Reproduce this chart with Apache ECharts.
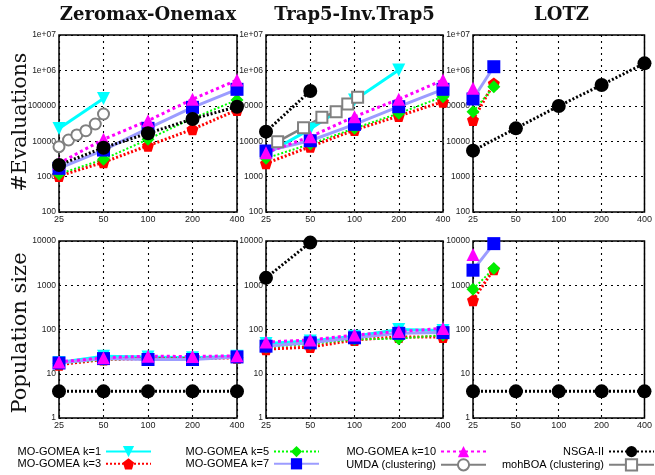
<!DOCTYPE html>
<html>
<head>
<meta charset="utf-8">
<script src="https://cdn.jsdelivr.net/npm/echarts@6/dist/echarts.min.js"></script>
<style>html,body{margin:0;padding:0;background:#fff}#c{width:655px;height:475px}</style>
</head>
<body>
<div id="c"></div>
<script>
// ---------- data ----------
const sizes = [25, 50, 100, 200, 400];
const sizesLotzGomea = [25, 35];
const sizesUmdaZO = [25, 29, 33, 38, 44, 50];
const sizesMohboaTrap = [30, 45, 60, 75, 90, 105];
const panelTitles = ['Zeromax-Onemax', 'Trap5-Inv.Trap5', 'LOTZ'];
const evalTicks = ['100', '1000', '10000', '100000', '1e+06', '1e+07'];
const popTicks = ['1', '10', '100', '1000', '10000'];
const seriesNames = ['MO-GOMEA k=1', 'MO-GOMEA k=3', 'MO-GOMEA k=5', 'MO-GOMEA k=7',
  'MO-GOMEA k=10', 'UMDA (clustering)', 'mohBOA (clustering)', 'NSGA-II'];

// Zeromax-Onemax, #evaluations
const zoEvalK1 = [23000, 160000];
const zoEvalK3 = [1040, 2540, 7460, 21700, 76100];
const zoEvalK5 = [1180, 3080, 11300, 44300, 146000];
const zoEvalK7 = [1710, 5630, 23100, 90600, 292000];
const zoEvalK10 = [2370, 11300, 38000, 152800, 535000];
const zoEvalUmda = [7000, 10800, 15000, 19800, 30600, 58600];
const zoEvalNsga = [2130, 6550, 16700, 42400, 94400];
// Trap5-Inv.Trap5, #evaluations
const trEvalK1 = [4300, 22000, 145000, 1030000];
const trEvalK3 = [2370, 7000, 20700, 51500, 131000];
const trEvalK5 = [3280, 8340, 23100, 61200, 181000];
const trEvalK7 = [5290, 10300, 29900, 94400, 292000];
const trEvalK10 = [4730, 13400, 49300, 153000, 535000];
const trEvalMohboa = [9700, 24100, 47200, 68200, 112000, 173000];
const trEvalNsga = [18600, 262000];
// LOTZ, #evaluations
const ltEvalK3 = [39800, 430000];
const ltEvalK5 = [68000, 347000];
const ltEvalK7 = [156000, 1270000];
const ltEvalK10 = [311000];
const ltEvalNsga = [5400, 23100, 98700, 387000, 1580000];
// Zeromax-Onemax, population size
const zoPopK1 = [18, 25, 24, 23, 25];
const zoPopK3 = [16, 21, 22, 22, 23];
const zoPopK5 = [17, 21, 22, 22, 23];
const zoPopK7 = [17.5, 22, 21, 21, 24];
const zoPopK10 = [18.5, 23, 25, 24.5, 25.5];
const zoPopNsga = [4, 4, 4, 4, 4];
// Trap5-Inv.Trap5, population size
const trPopK1 = [48, 55, 70, 100, 95];
const trPopK3 = [36, 40, 58, 68, 68];
const trPopK5 = [40, 47, 60, 62, 75];
const trPopK7 = [42, 50, 65, 82, 85];
const trPopK10 = [52, 58, 75, 90, 106];
const trPopNsga = [1470, 9200];
// LOTZ, population size
const ltPopK3 = [461, 2300];
const ltPopK5 = [817, 2390];
const ltPopK7 = [2190, 8720];
const ltPopK10 = [4940];
const ltPopNsga = [4, 4, 4, 4, 4];

// ---------- styles ----------
const pentagon = 'path://M0,-10L9.5,-3.1L5.9,8.1L-5.9,8.1L-9.5,-3.1Z';
const styleOf = {
  'MO-GOMEA k=1': {color: '#00ffff', line: '#00ffff', symbol: 'triangle', rot: 180, size: 13, width: 3, type: 'solid'},
  'MO-GOMEA k=3': {color: '#ff0000', line: '#ff0000', symbol: pentagon, rot: 0, size: 12, width: 3, type: [2, 2]},
  'MO-GOMEA k=5': {color: '#00ee00', line: '#00ff00', symbol: 'diamond', rot: 0, size: 13, width: 2, type: [2, 2]},
  'MO-GOMEA k=7': {color: '#0000ff', line: '#9c9cff', symbol: 'rect', rot: 0, size: 13, width: 3, type: 'solid'},
  'MO-GOMEA k=10': {color: '#ff00ff', line: '#ff00ff', symbol: 'triangle', rot: 0, size: 13, width: 3, type: [3, 3]},
  'UMDA (clustering)': {color: '#808080', line: '#808080', symbol: 'emptyCircle', rot: 0, size: 11, width: 2.5, type: 'solid'},
  'mohBOA (clustering)': {color: '#808080', line: '#808080', symbol: 'emptyRect', rot: 0, size: 11, width: 2.5, type: 'solid'},
  'NSGA-II': {color: '#000000', line: '#000000', symbol: 'circle', rot: 0, size: 14, width: 3, type: [2, 2]}
};

function mk(name, grid, xs, ys) {
  const s = styleOf[name];
  return {
    name: name, type: 'line', xAxisIndex: grid, yAxisIndex: grid,
    data: ys.map((v, i) => [xs[i] / 25, v]),
    symbol: s.symbol, symbolSize: s.size, symbolRotate: s.rot, showAllSymbol: true,
    lineStyle: {color: s.line, width: s.width, type: s.type},
    itemStyle: {color: s.color, borderColor: s.color, borderWidth: s.symbol.indexOf('empty') === 0 ? 3 : 0},
    emphasis: {disabled: true}, animation: false, clip: false
  };
}

const series = [
  // grid 0: ZO evals
  mk('MO-GOMEA k=1', 0, [25, 50], zoEvalK1),
  mk('MO-GOMEA k=3', 0, sizes, zoEvalK3),
  mk('MO-GOMEA k=5', 0, sizes, zoEvalK5),
  mk('MO-GOMEA k=7', 0, sizes, zoEvalK7),
  mk('MO-GOMEA k=10', 0, sizes, zoEvalK10),
  mk('UMDA (clustering)', 0, sizesUmdaZO, zoEvalUmda),
  mk('NSGA-II', 0, sizes, zoEvalNsga),
  // grid 1: Trap evals
  mk('MO-GOMEA k=1', 1, [25, 50, 100, 200], trEvalK1),
  mk('MO-GOMEA k=3', 1, sizes, trEvalK3),
  mk('MO-GOMEA k=5', 1, sizes, trEvalK5),
  mk('MO-GOMEA k=7', 1, sizes, trEvalK7),
  mk('MO-GOMEA k=10', 1, sizes, trEvalK10),
  mk('mohBOA (clustering)', 1, sizesMohboaTrap, trEvalMohboa),
  mk('NSGA-II', 1, [25, 50], trEvalNsga),
  // grid 2: LOTZ evals
  mk('MO-GOMEA k=3', 2, sizesLotzGomea, ltEvalK3),
  mk('MO-GOMEA k=5', 2, sizesLotzGomea, ltEvalK5),
  mk('MO-GOMEA k=7', 2, sizesLotzGomea, ltEvalK7),
  mk('MO-GOMEA k=10', 2, [25], ltEvalK10),
  mk('NSGA-II', 2, sizes, ltEvalNsga),
  // grid 3: ZO pop
  mk('MO-GOMEA k=1', 3, sizes, zoPopK1),
  mk('MO-GOMEA k=3', 3, sizes, zoPopK3),
  mk('MO-GOMEA k=5', 3, sizes, zoPopK5),
  mk('MO-GOMEA k=7', 3, sizes, zoPopK7),
  mk('MO-GOMEA k=10', 3, sizes, zoPopK10),
  mk('NSGA-II', 3, sizes, zoPopNsga),
  // grid 4: Trap pop
  mk('MO-GOMEA k=1', 4, sizes, trPopK1),
  mk('MO-GOMEA k=3', 4, sizes, trPopK3),
  mk('MO-GOMEA k=5', 4, sizes, trPopK5),
  mk('MO-GOMEA k=7', 4, sizes, trPopK7),
  mk('MO-GOMEA k=10', 4, sizes, trPopK10),
  mk('NSGA-II', 4, [25, 50], trPopNsga),
  // grid 5: LOTZ pop
  mk('MO-GOMEA k=3', 5, sizesLotzGomea, ltPopK3),
  mk('MO-GOMEA k=5', 5, sizesLotzGomea, ltPopK5),
  mk('MO-GOMEA k=7', 5, sizesLotzGomea, ltPopK7),
  mk('MO-GOMEA k=10', 5, [25], ltPopK10),
  mk('NSGA-II', 5, sizes, ltPopNsga)
];

// ---------- layout ----------
const lefts = [59, 266, 473];
const widths = [178, 177, 177];
const rowTop = [35, 241];
const rowH = [177, 177];

const grids = [], xAxes = [], yAxes = [];
const dotted = {show: true, lineStyle: {color: '#000', width: 1.1, type: [2, 4]}};
for (let r = 0; r < 2; r++) {
  for (let c = 0; c < 3; c++) {
    grids.push({left: lefts[c], width: widths[c], top: rowTop[r], height: rowH[r],
      show: true, borderColor: '#000', borderWidth: 1.5, backgroundColor: 'transparent'});
    const gi = grids.length - 1;
    xAxes.push({type: 'log', logBase: 2, gridIndex: gi, min: 1, max: 16,
      axisLine: {show: false}, axisTick: {show: false}, splitLine: dotted,
      axisLabel: {fontSize: 9, color: '#222', fontFamily: 'Liberation Sans', margin: 3,
        formatter: v => String(sizes[Math.round(Math.log2(v))])}});
    const ticks = r === 0 ? evalTicks : popTicks;
    yAxes.push({type: 'log', logBase: 10, gridIndex: gi,
      min: r === 0 ? 100 : 1, max: r === 0 ? 1e7 : 1e4,
      axisLine: {show: false}, axisTick: {show: false}, splitLine: dotted,
      axisLabel: {fontSize: 8.5, color: '#222', fontFamily: 'Liberation Sans', margin: 3,
        formatter: v => ticks[Math.round(Math.log10(v)) - (r === 0 ? 2 : 0)]}});
  }
}

const legendBase = {orient: 'vertical', align: 'right', top: 446, itemWidth: 45, itemHeight: 14,
  itemGap: 1, padding: 0, selectedMode: false,
  textStyle: {fontSize: 11, color: '#000', fontFamily: 'Liberation Sans'}};
const legends = [
  Object.assign({}, legendBase, {right: 503, data: [seriesNames[0], seriesNames[1]]}),
  Object.assign({}, legendBase, {right: 335, data: [seriesNames[2], seriesNames[3]]}),
  Object.assign({}, legendBase, {right: 168, data: [seriesNames[4], seriesNames[5]]}),
  Object.assign({}, legendBase, {right: 0, data: [seriesNames[7], seriesNames[6]]})
];

const graphics = [];
for (let c = 0; c < 3; c++) {
  graphics.push({type: 'text', x: lefts[c] + widths[c] / 2, y: 15,
    style: {text: panelTitles[c], fontFamily: 'DejaVu Serif', fontWeight: 'bold', fontSize: 18,
      fill: '#111', textAlign: 'center', textVerticalAlign: 'middle'}});
}
graphics.push({type: 'text', x: 21, y: 122, rotation: Math.PI / 2,
  style: {text: '#Evaluations', fontFamily: 'DejaVu Serif', fontSize: 20.5, fill: '#111',
    textAlign: 'center', textVerticalAlign: 'middle'}});
graphics.push({type: 'text', x: 21, y: 333, rotation: Math.PI / 2,
  style: {text: 'Population size', fontFamily: 'DejaVu Serif', fontSize: 21, fill: '#111',
    textAlign: 'center', textVerticalAlign: 'middle'}});

const chart = echarts.init(document.getElementById('c'), null, {renderer: 'canvas'});
chart.setOption({
  animation: false,
  backgroundColor: '#fff',
  grid: grids, xAxis: xAxes, yAxis: yAxes,
  legend: legends,
  graphic: graphics,
  series: series
});
</script>
</body>
</html>
